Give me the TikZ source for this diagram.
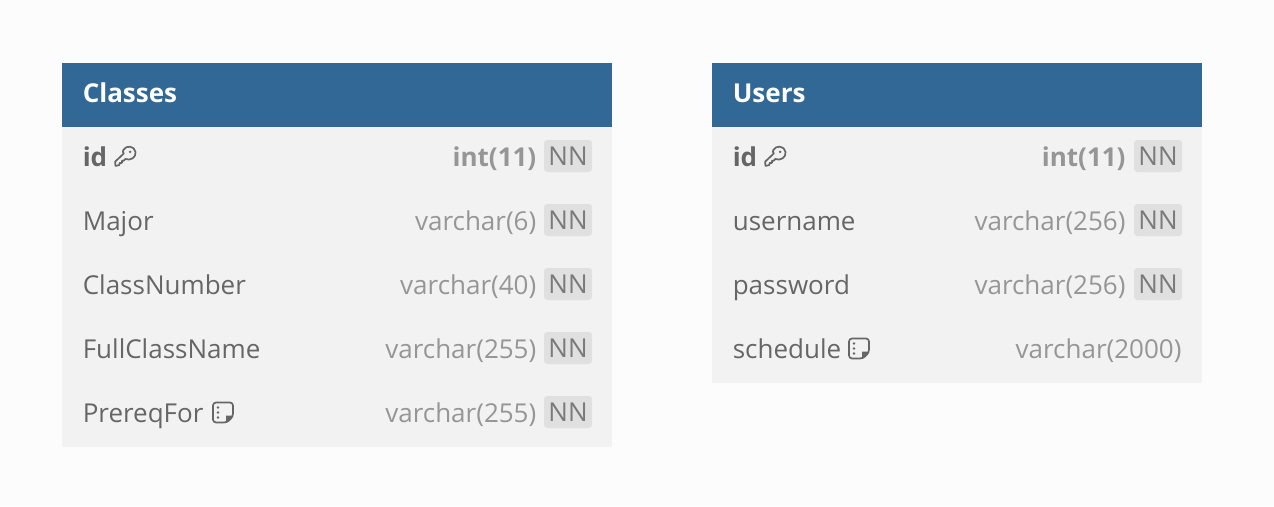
\documentclass[tikz,border=0pt]{standalone}
\usepackage{fontspec}
\setmainfont{Open Sans}
\definecolor{bgc}{HTML}{FCFCFC}
\definecolor{headc}{HTML}{316896}
\definecolor{bodyc}{HTML}{F2F2F2}
\definecolor{namec}{HTML}{666666}
\definecolor{typec}{HTML}{969696}
\definecolor{badgec}{HTML}{E0E0E0}
\definecolor{nnc}{HTML}{7A7A7A}
\tikzset{
  x=1pt,y=-1pt,
  headbox/.style={fill=headc,draw=none,minimum height=64pt,inner sep=0pt,anchor=north west},
  bodybox/.style={fill=bodyc,draw=none,inner sep=0pt,anchor=north west},
  title/.style={text=white,font=\fontsize{26}{30}\selectfont\bfseries,anchor=base west,inner sep=0pt},
  fieldname/.style={text=namec,font=\fontsize{26}{30}\selectfont,anchor=base west,inner sep=0pt},
  keyname/.style={fieldname,font=\fontsize{26}{30}\selectfont\bfseries},
  fieldtype/.style={text=typec,font=\fontsize{26}{30}\selectfont,anchor=base east,inner sep=0pt},
  keytype/.style={fieldtype,font=\fontsize{26}{30}\selectfont\bfseries},
  badge/.style={fill=badgec,rounded corners=3pt,minimum width=48pt,minimum height=32pt,inner sep=0pt,text=nnc,font=\fontsize{26}{30}\selectfont},
  icon/.style={draw=namec,line width=1.7pt,line join=round,line cap=round},
  pics/keyicon/.style={code={
    \draw[icon] (-2.2,-6.5) .. controls (0.5,-11.5) and (9,-11) .. (10,-4.5)
      .. controls (10.8,1) and (5,4.5) .. (-0.2,2.5)
      -- (-1.8,4.2) -- (-3.6,4.2) -- (-3.6,6.4) -- (-5.8,6.4) -- (-6.2,8.6) -- (-10,9.4) -- (-10.4,5.2)
      -- (-1.7,-3) .. controls (-2.8,-4) and (-2.8,-5.5) .. (-2.2,-6.5) -- cycle;
    \fill[namec] (4.6,-4.6) circle (1.4);
  }},
  pics/noteicon/.style={code={
    \draw[icon,rounded corners=3pt] (-10,-10) -- (10,-10) -- (10,4) -- (4,10) -- (-10,10) -- cycle;
    \fill[namec] (10,3) -- (3,3) -- (3,10) -- cycle;
    \fill[namec] (-5,-5) circle (1.3) (-5,0) circle (1.3) (-5,5) circle (1.3);
  }},
}
\begin{document}
\begin{tikzpicture}
\useasboundingbox[fill=bgc] (0,0) rectangle (1274,506);
% Classes
\node[bodybox,minimum width=550pt,minimum height=320pt] (cbody) at (62,127) {};
\node[headbox,minimum width=550pt] (chead) at (62,63) {};
\node[title] (ctitle) at (82.6,102) {Classes};
\node[keyname] (cid) at (82.6,166) {id};
\pic at (125.5,156.5) {keyicon};
\node[keytype] (cidt) at (536.5,166) {int(11)};
\node[badge] (cidn) at (568,156) {NN};
\node[fieldname] (cmajor) at (82.6,230) {Major};
\node[fieldtype] (cmajort) at (536.5,230) {varchar(6)};
\node[badge] (cmajorn) at (568,220) {NN};
\node[fieldname] (cnum) at (82.6,294) {ClassNumber};
\node[fieldtype] (cnumt) at (536.5,294) {varchar(40)};
\node[badge] (cnumn) at (568,284) {NN};
\node[fieldname] (cfull) at (82.6,358) {FullClassName};
\node[fieldtype] (cfullt) at (536.5,358) {varchar(255)};
\node[badge] (cfulln) at (568,348) {NN};
\node[fieldname] (cpre) at (82.6,422) {PrereqFor};
\pic at (223,412.5) {noteicon};
\node[fieldtype] (cpret) at (536.5,422) {varchar(255)};
\node[badge] (cpren) at (568,412) {NN};
% Users
\node[bodybox,minimum width=490pt,minimum height=256pt] (ubody) at (712,127) {};
\node[headbox,minimum width=490pt] (uhead) at (712,63) {};
\node[title] (utitle) at (732.6,102) {Users};
\node[keyname] (uid) at (732.6,166) {id};
\pic at (775.5,156.5) {keyicon};
\node[keytype] (uidt) at (1125.7,166) {int(11)};
\node[badge] (uidn) at (1158,156) {NN};
\node[fieldname] (uname) at (732.6,230) {username};
\node[fieldtype] (unamet) at (1125.7,230) {varchar(256)};
\node[badge] (unamen) at (1158,220) {NN};
\node[fieldname] (upass) at (732.6,294) {password};
\node[fieldtype] (upasst) at (1125.7,294) {varchar(256)};
\node[badge] (upassn) at (1158,284) {NN};
\node[fieldname] (usched) at (732.6,358) {schedule};
\pic at (859,348.5) {noteicon};
\node[fieldtype] (uschedt) at (1181.7,358) {varchar(2000)};
\end{tikzpicture}
\end{document}
